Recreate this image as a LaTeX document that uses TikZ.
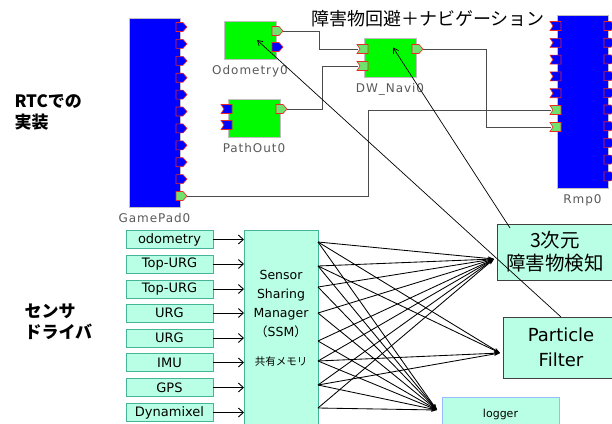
\documentclass[tikz,border=0pt]{standalone}
\usepackage{fontspec}
\setmainfont{DejaVu Sans}
\newfontfamily\jp{Noto Sans CJK JP}
\newfontfamily\lblfont[LetterSpace=8]{DejaVu Sans}
\usetikzlibrary{arrows.meta}
\definecolor{aqua}{RGB}{185,255,230}
\definecolor{tealline}{RGB}{70,180,150}
\definecolor{loggerblue}{RGB}{150,190,255}
\definecolor{portred}{RGB}{235,40,40}
\definecolor{portgreen}{RGB}{110,225,110}
\definecolor{rtcgreen}{RGB}{0,250,0}
\definecolor{rtcblue}{RGB}{0,0,255}
\begin{document}
\begin{tikzpicture}[x=1pt,y=-1pt,label distance=3pt,
  rtc/.style={draw=gray!50,inner sep=0pt,outer sep=0pt},
  blue box/.style={rtc,fill=rtcblue,minimum width=51pt},
  green box/.style={rtc,fill=rtcgreen,minimum width=52pt,minimum height=38pt},
  lbl/.style={font=\lblfont\fontsize{12}{14}\selectfont,text=gray!70!black},
  port/.style={draw=portred,line width=0.6pt},
  pics/oport/.style={code={\draw[port,fill=#1] (-4,-4.5) -- (3,-4.5) -- (7,0) -- (3,4.5) -- (-4,4.5) -- cycle;
    \coordinate (-tip) at (7,0);}},
  pics/iport/.style={code={\draw[port,fill=#1] (-7,-4.5) -- (4,-4.5) -- (4,4.5) -- (-7,4.5) -- (-4,0) -- cycle;
    \coordinate (-in) at (-6,0);}},
  wire/.style={draw=gray!60!black,line width=0.8pt},
  aq/.style={fill=aqua,inner sep=0pt,outer sep=0pt,align=center},
  sensor/.style={aq,draw=tealline,line width=0.8pt,minimum width=87pt,minimum height=18pt,font=\fontsize{13}{14}\selectfont},
  target/.style={aq,draw=black!75,line width=0.9pt,minimum width=116pt},
  feed/.style={line width=0.9pt,-{Straight Barb[length=5pt,width=9pt]}},
  fan/.style={line width=0.85pt,-{Stealth[length=6pt,width=4pt]}},
  link/.style={line width=0.7pt,-{Straight Barb[length=5pt,width=6pt]}},
  side/.style={align=left,anchor=west,font=\jp\bfseries\fontsize{17}{21}\selectfont}]
  \useasboundingbox (0,0) rectangle (612,423);
  % RTC components
  \node[blue box,minimum height=189pt,label={[lbl]below:GamePad0}] (gamepad) at (154.5,112.5) {};
  \node[green box,label={[lbl]below:Odometry0}] (odometry) at (250,40) {};
  \node[green box,label={[lbl]below:PathOut0}] (pathout) at (254,118) {};
  \node[green box,minimum height=39pt,label={[lbl]below:DW\_Navi0}] (navi) at (390,57.5) {};
  \node[blue box,minimum height=173pt,label={[lbl]below:Rmp0}] (rmp) at (582.5,101.5) {};
  % ports
  \foreach \i in {0,...,9} \pic at (180,{27+16.9*\i}) {oport=rtcblue};
  \pic (gpout) at (180,196) {oport=portgreen};
  \pic (odoout) at (276,31) {oport=portgreen};
  \pic at (276,47) {oport=rtcblue};
  \pic at (228,109) {iport=rtcblue};
  \pic at (228,125) {iport=rtcblue};
  \pic (pathoutout) at (280,109) {oport=portgreen};
  \pic (naviin1) at (364,49) {iport=portgreen};
  \pic (naviin2) at (364,66) {iport=portgreen};
  \pic (naviout) at (416,49) {oport=portgreen};
  \foreach \i in {0,...,4} \pic at (557,{26+16.8*\i}) {iport=rtcblue};
  \pic (rmpin1) at (557,110) {iport=portgreen};
  \pic (rmpin2) at (557,127) {iport=portgreen};
  \foreach \i in {0,...,9} \pic at (608,{26+16.7*\i}) {oport=rtcblue};
  \draw[wire] (odoout-tip) -- ++(36,0) |- (naviin1-in);
  \draw[wire] (pathoutout-tip) -- ++(35,0) |- (naviin2-in);
  \draw[wire] (naviout-tip) -- ++(63,0) |- (rmpin2-in);
  \draw[wire] (gpout-tip) -- ++(181,0) |- (rmpin1-in);
  \node[font=\jp\fontsize{18}{20}\selectfont] (title) at (428,19) {障害物回避＋ナビゲーション};
  \node[side] (rtctext) at (11,112) {RTCでの\\実装};
  \node[side] (drvtext) at (21,322) {センサ\\ドライバ};
  % sensor drivers
  \node[aq,draw=tealline,line width=0.8pt,minimum width=74pt,minimum height=194pt] (ssm) at (281,327) {};
  \node[font=\fontsize{12.5}{19}\selectfont,align=center] (ssmtext) at (281,318)
    {Sensor\\Sharing\\Manager\\{\jp（}SSM{\jp）}\\[10pt]{\jp\fontsize{10.5}{12}\selectfont 共有メモリ}};
  \foreach \t/\y [count=\i] in {odometry/239.5,Top-URG/264,Top-URG/289,URG/313,URG/338,IMU/362.5,GPS/387.5,Dynamixel/412.5}
    \node[sensor] (s\i) at (169.5,\y) {\t};
  \foreach \i in {1,...,8} \draw[feed] (s\i) -- (s\i -| ssm.west);
  \node[target,minimum height=56pt,font=\jp\fontsize{19.5}{23}\selectfont] (det) at (555,252) {3次元\\障害物検知};
  \node[target,minimum height=61pt,font=\fontsize{18}{25}\selectfont] (pf) at (561,347.5) {Particle\\Filter};
  \node[aq,draw=loggerblue,line width=0.8pt,minimum width=117pt,minimum height=34pt,font=\fontsize{11}{13}\selectfont] (logger) at (500.5,414) {logger};
  \coordinate (in3d) at ([xshift=-3pt,yshift=-7pt]det.west);
  \coordinate (inpf) at ([xshift=-3pt,yshift=-5.5pt]pf.west);
  \coordinate (inlog) at ([xshift=-5pt,yshift=4pt]logger.west);
  \foreach \y in {242,266,287,313,341,361,385,408} {
    \draw[fan] (ssm.east |- 0,\y) -- (in3d);
    \draw[fan] (ssm.east |- 0,\y) -- (inlog);
  }
  \foreach \y in {242,266,361,385} \draw[fan] (ssm.east |- 0,\y) -- (inpf);
  \draw[link] (pf.north) -- ([xshift=7pt]odometry.center);
  \draw[link] ([xshift=13pt,yshift=-4pt]det.north west) -- ([xshift=3pt,yshift=10pt]navi.center);
\end{tikzpicture}
\end{document}
